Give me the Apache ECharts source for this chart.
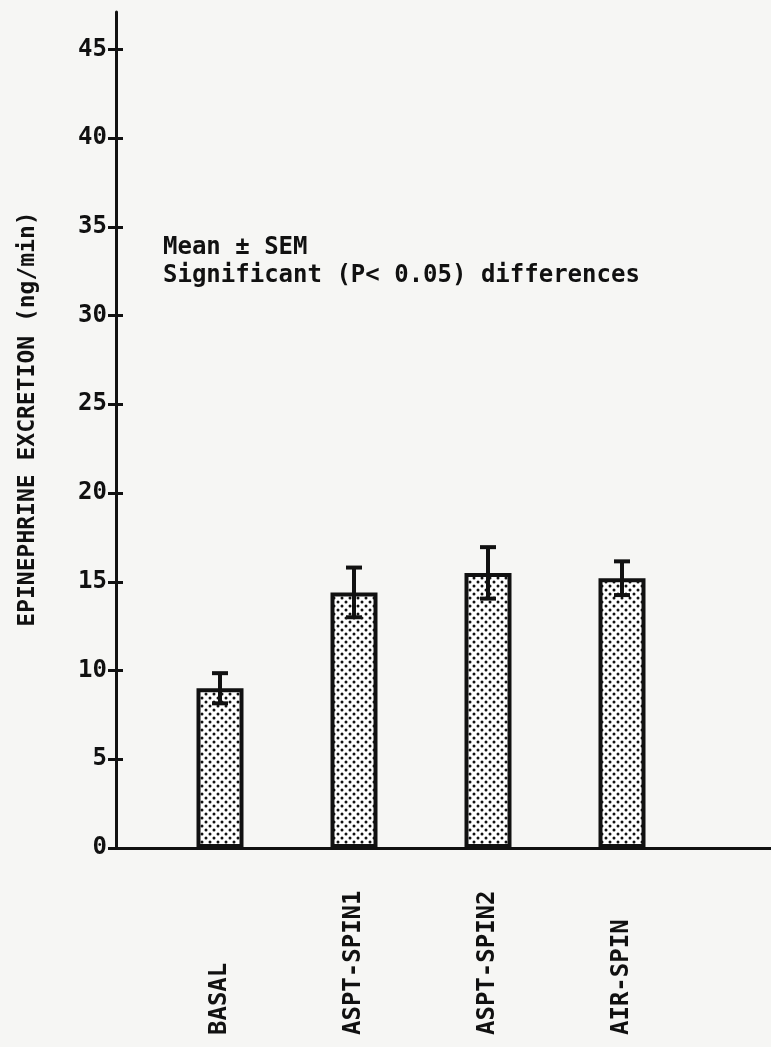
<!DOCTYPE html>
<html>
<head>
<meta charset="utf-8">
<script src="https://cdn.jsdelivr.net/npm/echarts@6/dist/echarts.min.js"></script>
<style>
	html, body { margin: 0; padding: 0; background: #f6f6f4; }
	#chart { width: 771px; height: 1047px; }
</style>
</head>
<body>
<div id="chart"></div>
<script>
var categories = ["BASAL", "ASPT-SPIN1", "ASPT-SPIN2", "AIR-SPIN"];
var means = [9.0, 14.4, 15.5, 15.2];
var sem = [0.85, 1.4, 1.45, 0.95];
var yTicks = [0, 5, 10, 15, 20, 25, 30, 35, 40, 45];

var FONT = "DejaVu Sans Mono";

// dotted fill
function dotPattern() {
	var c = document.createElement("canvas");
	c.width = 8;
	c.height = 8;
	var ctx = c.getContext("2d");
	ctx.fillStyle = "#ffffff";
	ctx.fillRect(0, 0, 8, 8);
	ctx.fillStyle = "#111111";
	[[2, 2], [6, 6]].forEach(function (p) {
		ctx.beginPath();
		ctx.arc(p[0], p[1], 1.5, 0, Math.PI * 2);
		ctx.fill();
	});
	return c;
}

var errData = means.map(function (m, i) {
	return [i, m - sem[i], m + sem[i]];
});

function renderErr(params, api) {
	var lo = api.coord([api.value(0), api.value(1)]);
	var hi = api.coord([api.value(0), api.value(2)]);
	var cap = 8;
	var style = { stroke: "#111", lineWidth: 4 };
	return {
		type: "group",
		children: [
			{ type: "line", shape: { x1: hi[0], y1: hi[1], x2: lo[0], y2: lo[1] }, style: style },
			{ type: "line", shape: { x1: hi[0] - cap, y1: hi[1], x2: hi[0] + cap, y2: hi[1] }, style: style },
			{ type: "line", shape: { x1: lo[0] - cap, y1: lo[1], x2: lo[0] + cap, y2: lo[1] }, style: style }
		]
	};
}

var myChart = echarts.init(document.getElementById("chart"), null, { renderer: "canvas" });
var yMax = 47.1;
var option = {
	backgroundColor: "#f6f6f4",
	animation: false,
	grid: [
		{ left: 116, right: 0, top: 12, bottom: 199 },
		{ left: 153, width: 536, top: 12, bottom: 199 }
	],
	xAxis: [
		{
			gridIndex: 0,
			type: "category",
			data: [""],
			axisLine: { lineStyle: { color: "#111", width: 3 } },
			axisTick: { show: false },
			axisLabel: { show: false }
		},
		{
			gridIndex: 1,
			type: "category",
			data: categories,
			axisLine: { show: false },
			axisTick: { show: false },
			axisLabel: {
				rotate: 90,
				align: "left",
				margin: 187,
				color: "#111",
				fontFamily: FONT,
				fontWeight: "bold",
				fontSize: 24
			}
		}
	],
	yAxis: [
		{
			gridIndex: 0,
			type: "value",
			min: 0,
			max: yMax,
			name: "EPINEPHRINE EXCRETION (ng/min)",
			nameLocation: "middle",
			nameGap: 76,
			nameTextStyle: { color: "#111", fontFamily: FONT, fontWeight: "bold", fontSize: 23, padding: [0, 0, 0, 22] },
			axisLine: { show: true, lineStyle: { color: "#111", width: 3 } },
			axisTick: { show: true, length: 8, customValues: yTicks, lineStyle: { color: "#111", width: 3 } },
			axisLabel: { customValues: yTicks, margin: 9, color: "#111", fontFamily: FONT, fontWeight: "bold", fontSize: 24 },
			splitLine: { show: false }
		},
		{
			gridIndex: 0,
			type: "value",
			min: 0,
			max: yMax,
			position: "left",
			axisLine: { show: false },
			axisTick: { show: true, inside: true, length: 7, customValues: yTicks, lineStyle: { color: "#111", width: 3 } },
			axisLabel: { show: false },
			splitLine: { show: false }
		},
		{
			gridIndex: 1,
			type: "value",
			min: 0,
			max: yMax,
			show: false,
			splitLine: { show: false }
		}
	],
	graphic: [
		{
			type: "text",
			left: 163,
			top: 234,
			style: {
				text: "Mean \u00b1 SEM\nSignificant (P< 0.05) differences",
				font: "bold 24px " + FONT,
				lineHeight: 28,
				fill: "#111"
			}
		}
	],
	series: [
		{
			type: "bar",
			xAxisIndex: 1,
			yAxisIndex: 2,
			barWidth: 47,
			data: means,
			itemStyle: {
				color: { image: dotPattern(), repeat: "repeat" },
				borderColor: "#111",
				borderWidth: 4
			}
		},
		{
			type: "custom",
			xAxisIndex: 1,
			yAxisIndex: 2,
			data: errData,
			renderItem: renderErr,
			z: 5
		}
	]
};
myChart.setOption(option);
window.addEventListener("resize", myChart.resize);
</script>
</body>
</html>
